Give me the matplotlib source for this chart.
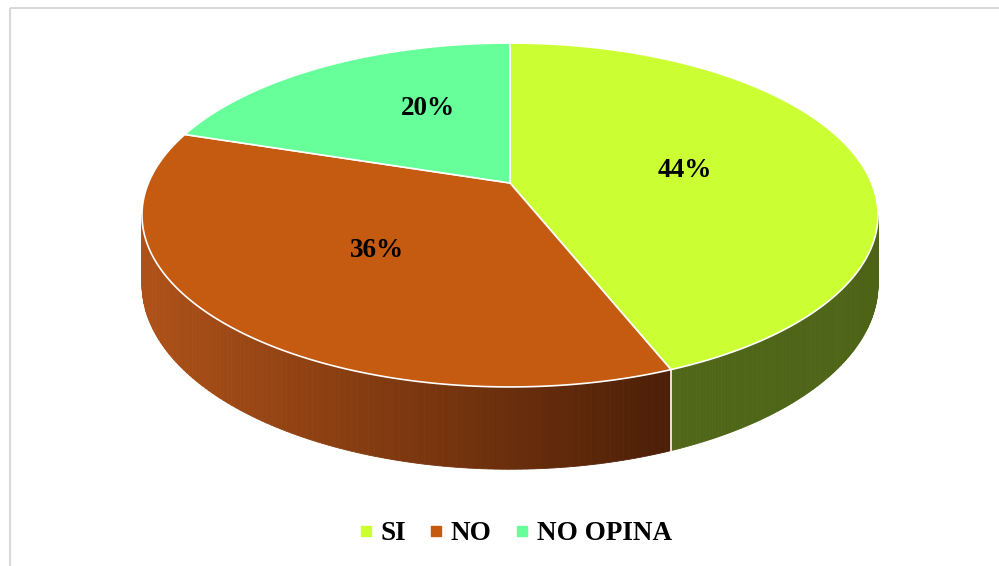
import numpy as np
import matplotlib.pyplot as plt
from matplotlib.patches import Polygon, Rectangle
from matplotlib.lines import Line2D
from matplotlib.colors import to_rgb

# Data
labels = ['SI', 'NO', 'NO OPINA']
values = [44, 36, 20]
pct_labels = ['44%', '36%', '20%']
top_colors = ['#CCFF33', '#C55A11', '#66FF99']
side_colors = [('#506719', '#4D6417'), ('#AE5118', '#4C1F07'), ('#4DBF73', '#3F9F60')]

# 3D pie projection (pixel coordinates, perspective tilt)
CX, CY = 510, 183
A, B, K, H = 361.6, 166.0, 0.186, 67.0


def project(theta, r=1.0, z=0.0):
    u = r * np.cos(theta)
    v = r * np.sin(theta)
    w = 1 + K * v
    return CX + A * u / w, CY - (B * v + H * z) / w


fig = plt.figure(figsize=(9.99, 5.66), dpi=100)
ax = fig.add_axes([0, 0, 1, 1])
ax.set_xlim(0, 999)
ax.set_ylim(566, 0)
ax.axis('off')

# Chart border (only top/left edges inside the picture)
ax.add_patch(Rectangle((10, 8), 1200, 1000, fill=False, edgecolor='#D9D9D9', lw=1.5))

fracs = np.array(values) / np.sum(values)
ends = 90 - 360 * np.cumsum(fracs)
starts = np.concatenate([[90], ends[:-1]])
vis = np.degrees(np.arcsin(K))
vis_lo, vis_hi = -180 + vis, -vis

# Side walls
for i in range(len(values)):
    hi = min(starts[i], vis_hi)
    lo = max(ends[i], vis_lo)
    if hi <= lo:
        continue
    ts = np.radians(np.linspace(hi, lo, 121))
    xs_all, _ = project(ts)
    xmin, xmax = xs_all.min(), xs_all.max()
    c0, c1 = np.array(to_rgb(side_colors[i][0])), np.array(to_rgb(side_colors[i][1]))
    for j in range(len(ts) - 1):
        seg = ts[j:j + 2]
        tx, ty = project(seg)
        bx, by = project(seg[::-1], z=-1)
        pts = np.column_stack([np.concatenate([tx, bx]), np.concatenate([ty, by])])
        f = ((tx.mean() - xmin) / (xmax - xmin)) if xmax > xmin else 0
        col = c0 + (c1 - c0) * f
        ax.add_patch(Polygon(pts, closed=True, facecolor=col, edgecolor=col, lw=0.6))

# Boundaries on the wall
for t in starts:
    if vis_lo < t < vis_hi:
        x0, y0 = project(np.radians(t))
        x1, y1 = project(np.radians(t), z=-1)
        ax.plot([x0, x1], [y0, y1], color='white', lw=1.2)

# Top faces
for i in range(len(values)):
    ts = np.radians(np.linspace(starts[i], ends[i], 200))
    rx, ry = project(ts)
    pts = np.column_stack([np.concatenate([[CX], rx]), np.concatenate([[CY], ry])])
    ax.add_patch(Polygon(pts, closed=True, facecolor=top_colors[i], edgecolor='white', lw=1.2))

# Percentage labels
label_r = [0.5, 0.5, 0.565]
label_dt = [0, 0, -10]
for i in range(len(values)):
    mid = (starts[i] + ends[i]) / 2 + label_dt[i]
    x, y = project(np.radians(mid), r=label_r[i])
    ax.text(x, y + 3, pct_labels[i], ha='center', va='center', fontsize=19.5,
            fontweight='bold', family='Liberation Serif')

# Legend
handles = [Line2D([], [], marker='s', color=c, linestyle='none', markersize=6.5) for c in top_colors]
fig.legend(handles, labels, loc='center', bbox_to_anchor=(516 / 999, 1 - 534 / 566), ncol=3,
           frameon=False, prop={'family': 'Liberation Serif', 'weight': 'bold', 'size': 19.5},
           handlelength=0.4, handletextpad=0.35, columnspacing=0.9)

fig.savefig('out.png', dpi=100)
